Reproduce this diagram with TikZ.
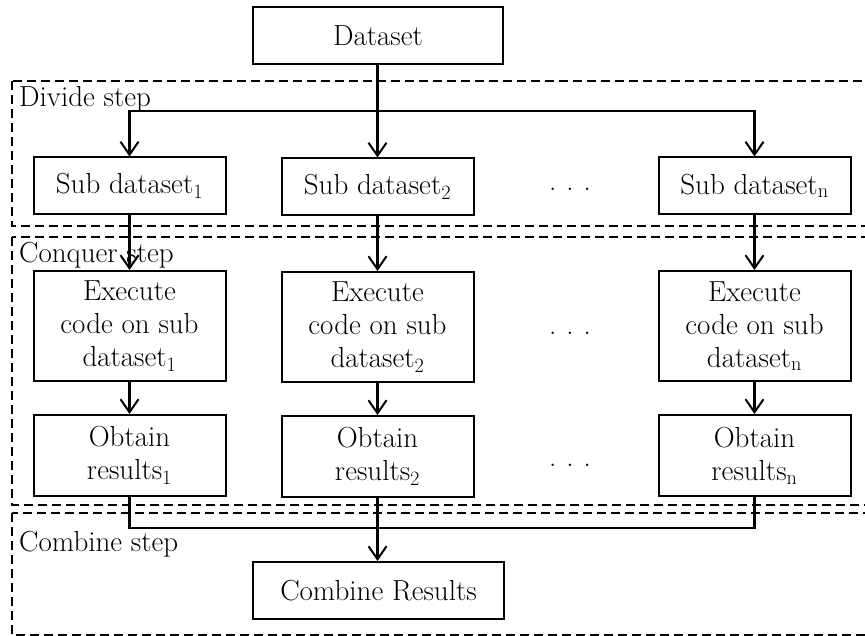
\documentclass[tikz,border=0pt]{standalone}
\usetikzlibrary{arrows.meta}
\begin{document}
\begin{tikzpicture}[x=1pt,y=-1pt,
  every node/.style={font=\fontsize{29}{33}\selectfont},
  box/.style={draw,line width=2pt,minimum width=192pt,align=center,inner sep=0pt},
  region/.style={draw,dashed,line width=1.3pt,dash pattern=on 9pt off 5pt},
  link/.style={line width=2.2pt},
  arr/.style={link,-{Straight Barb[length=13pt,width=18pt,line width=2pt]}},
  steplabel/.style={anchor=base west,inner sep=0pt},
  dots/.style={anchor=base,inner sep=0pt}]
\useasboundingbox (0,0) rectangle (865,636);

% step regions (open to the right)
\draw[region] (12,81) rectangle (880,226);
\draw[region] (12,237) rectangle (880,505);
\draw[region] (12,513) rectangle (880,635);
\node[steplabel] (ldiv) at (19,107) {Divide step};
\node[steplabel] (lcon) at (19,263) {Conquer step};
\node[steplabel] (lcom) at (19,551) {Combine step};

% nodes
\node[box,minimum width=250pt,minimum height=57pt] (ds) at (378,35.5) {Dataset};

\node[box,minimum height=57pt] (s1) at (129.5,186) {Sub dataset\textsubscript{1}};
\node[box,minimum height=57pt] (s2) at (377.5,187) {Sub dataset\textsubscript{2}};
\node[box,minimum height=57pt] (sn) at (754.5,186) {Sub dataset\textsubscript{n}};

\node[box,minimum height=110pt] (e1) at (129.5,326) {Execute\\code on sub\\dataset\textsubscript{1}};
\node[box,minimum height=110pt] (e2) at (377.5,327) {Execute\\code on sub\\dataset\textsubscript{2}};
\node[box,minimum height=110pt] (en) at (754.5,326) {Execute\\code on sub\\dataset\textsubscript{n}};

\node[box,minimum height=81pt] (o1) at (129.5,455.5) {Obtain\\results\textsubscript{1}};
\node[box,minimum height=81pt] (o2) at (377.5,456.5) {Obtain\\results\textsubscript{2}};
\node[box,minimum height=81pt] (on) at (754.5,455.5) {Obtain\\results\textsubscript{n}};

\node[box,minimum width=251pt,minimum height=57pt] (cr) at (378.5,590.5) {Combine Results};

\node[dots] (d1) at (570,191) {.\hspace{10pt}.\hspace{10pt}.};
\node[dots] (d2) at (570,335) {.\hspace{10pt}.\hspace{10pt}.};
\node[dots] (d3) at (570,466) {.\hspace{10pt}.\hspace{10pt}.};

% connectors
\coordinate (split) at (377.5,111);
\coordinate (join) at (377.5,528);
\draw[link] (ds.south -| split) -- (split);
\draw[arr] (split) -- (s2);
\draw[arr] (split) -| (s1);
\draw[arr] (split) -| (sn);

\draw[arr] (s1) -- (e1);
\draw[arr] (s2) -- (e2);
\draw[arr] (sn) -- (en);

\draw[arr] (e1) -- (o1);
\draw[arr] (e2) -- (o2);
\draw[arr] (en) -- (on);

\draw[link] (o1) |- (join);
\draw[link] (on) |- (join);
\draw[arr] (o2) -- (cr.north -| o2);
\end{tikzpicture}
\end{document}
